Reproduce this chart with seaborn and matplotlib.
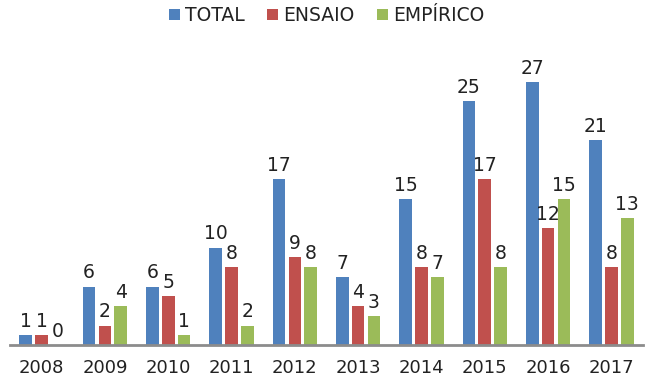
import pandas as pd
import seaborn as sns
import matplotlib.pyplot as plt

years = ["2008", "2009", "2010", "2011", "2012", "2013", "2014", "2015", "2016", "2017"]
total = [1, 6, 6, 10, 17, 7, 15, 25, 27, 21]
ensaio = [1, 2, 5, 8, 9, 4, 8, 17, 12, 8]
empirico = [0, 4, 1, 2, 8, 3, 7, 8, 15, 13]
series = ["TOTAL", "ENSAIO", "EMPÍRICO"]
colors = ["#4F81BD", "#C0504D", "#9BBB59"]

df = pd.DataFrame({"ano": years, "TOTAL": total, "ENSAIO": ensaio, "EMPÍRICO": empirico})
df = df.melt(id_vars="ano", var_name="tipo", value_name="n")

sns.set_style("white")
plt.rcParams["font.family"] = ["DejaVu Sans"]

fig = plt.figure(figsize=(6.5, 3.85), dpi=100)
ax = fig.add_axes([10 / 650, 40 / 385, 633 / 650, 305 / 385])

sns.barplot(data=df, x="ano", y="n", hue="tipo", hue_order=series,
            palette=colors, width=0.75, gap=0.2, saturation=1,
            linewidth=0, errorbar=None, ax=ax, legend=True)

for c in ax.containers:
    ax.bar_label(c, fontsize=13.5, padding=3, color="#222222")

ax.set_xlim(-0.5, 9.5)
ax.set_ylim(0, 31.3)
ax.set_xlabel("")
ax.set_ylabel("")
ax.set_yticks([])
for s in ["top", "right", "left"]:
    ax.spines[s].set_visible(False)
ax.spines["bottom"].set_color("#8c8c8c")
ax.spines["bottom"].set_linewidth(2)
ax.tick_params(axis="x", length=0, labelsize=13, pad=10, colors="#222222")

ax.legend(loc="center", bbox_to_anchor=(0.5, 1.08),
          ncol=3, frameon=False, fontsize=13.5, handlelength=0.6, handleheight=0.6,
          handletextpad=0.25, columnspacing=1.2, labelcolor="#222222")

fig.savefig("out.png", dpi=100)
